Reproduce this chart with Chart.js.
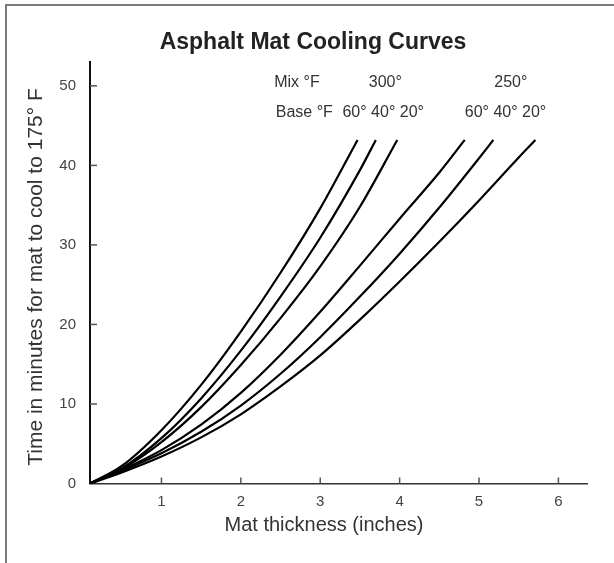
<!DOCTYPE html>
<html lang="en">
<head>
<meta charset="UTF-8">
<title>Asphalt Mat Cooling Curves</title>
<script src="https://cdn.jsdelivr.net/npm/chart.js@4"></script>
<style>
    html, body { margin: 0; padding: 0; background: #fff; overflow: hidden; }
    .frame { position: absolute; left: 5px; top: 4px; width: 640px; height: 600px; border: 2px solid #7a7a7a; }
    canvas { position: absolute; left: 0; top: 0; }
</style>
</head>
<body>
<div class="frame"></div>
<canvas id="chart" width="614" height="563"></canvas>
<script>
const thickness = [0.1, 0.5, 1, 1.5, 2, 2.5, 3, 3.5, 4, 4.5, 5, 5.5];

// minutes to cool to 175 F, one list per mix / base temperature
const time300_60 = [0, 2.2, 6.7, 12.4, 19.1, 26.5, 34.6];
const time300_40 = [0, 1.9, 5.7, 10.7, 16.7, 23.5, 30.9, 39.4];
const time300_20 = [0, 1.8, 5.2, 9.6, 14.9, 20.8, 27.3, 34.8];
const time250_60 = [0, 1.7, 4.2, 7.4, 11.4, 16.2, 21.6, 27.4, 33.3, 39.1];
const time250_40 = [0, 1.6, 3.8, 6.5, 9.8, 13.8, 18.4, 23.5, 28.9, 34.7, 40.9];
const time250_20 = [0, 1.4, 3.4, 5.8, 8.7, 12.2, 16.1, 20.6, 25.4, 30.4, 35.6, 41.0];

// where each curve stops at the top
const endThickness = [3.47, 3.70, 3.97, 4.82, 5.18, 5.71];
const endTime = [43.2, 43.2, 43.2, 43.2, 43.2, 43.2];

const mixTemps = ['300°', '300°', '300°', '250°', '250°', '250°'];
const baseTemps = ['60°', '40°', '20°', '60°', '40°', '20°'];

const xTicks = [1, 2, 3, 4, 5, 6];
const yTicks = [0, 10, 20, 30, 40, 50];

const FONT = "'Liberation Sans', Arial, sans-serif";
const allSeries = [time300_60, time300_40, time300_20, time250_60, time250_40, time250_20];

const datasets = allSeries.map((vals, i) => {
    const pts = vals.map((v, j) => ({ x: thickness[j], y: v }));
    pts.push({ x: endThickness[i], y: endTime[i] });
    return {
        label: 'Mix ' + mixTemps[i] + ' / Base ' + baseTemps[i],
        data: pts,
        borderColor: '#000',
        borderWidth: 2.2,
        pointRadius: 0,
        fill: false,
        cubicInterpolationMode: 'monotone'
    };
});

// header text over the curves, placed in data units
const notes = [
    { text: 'Mix °F', x: 2.42, y: 50.4, align: 'left' },
    { text: '300°', x: 3.82, y: 50.4, align: 'center' },
    { text: '250°', x: 5.40, y: 50.4, align: 'center' },
    { text: 'Base °F', x: 2.44, y: 46.6, align: 'left' },
    { text: '60° 40° 20°', x: 3.28, y: 46.6, align: 'left' },
    { text: '60° 40° 20°', x: 4.82, y: 46.6, align: 'left' }
];

const decor = {
    id: 'decor',
    afterDraw(chart) {
        const { ctx, chartArea: a, scales: { x, y } } = chart;
        ctx.save();

        // tick marks point inward
        ctx.strokeStyle = '#555';
        ctx.lineWidth = 1.5;
        xTicks.forEach(v => {
            const px = x.getPixelForValue(v);
            ctx.beginPath();
            ctx.moveTo(px, a.bottom);
            ctx.lineTo(px, a.bottom - 6);
            ctx.stroke();
        });
        yTicks.filter(v => v > 0).forEach(v => {
            const py = y.getPixelForValue(v);
            ctx.beginPath();
            ctx.moveTo(a.left, py);
            ctx.lineTo(a.left + 7, py);
            ctx.stroke();
        });

        ctx.fillStyle = '#333';
        ctx.textBaseline = 'middle';
        ctx.font = '16px ' + FONT;
        notes.forEach(n => {
            ctx.textAlign = n.align;
            ctx.fillText(n.text, x.getPixelForValue(n.x), y.getPixelForValue(n.y));
        });

        // title
        ctx.fillStyle = '#222';
        ctx.textAlign = 'center';
        ctx.textBaseline = 'alphabetic';
        ctx.font = 'bold 23px ' + FONT;
        ctx.fillText('Asphalt Mat Cooling Curves', 313, 49);

        // axis titles
        ctx.fillStyle = '#333';
        ctx.font = '20px ' + FONT;
        ctx.textBaseline = 'middle';
        ctx.fillText('Mat thickness (inches)', 324, 525);

        ctx.translate(36, 277);
        ctx.rotate(-Math.PI / 2);
        ctx.font = '21px ' + FONT;
        ctx.fillText('Time in minutes for mat to cool to 175° F', 0, 0);
        ctx.restore();
    }
};

new Chart(document.getElementById('chart'), {
    type: 'line',
    data: { datasets },
    options: {
        responsive: false,
        animation: false,
        layout: { padding: { left: 0, right: 27, top: 62, bottom: 0 } },
        plugins: {
            legend: { display: false },
            title: { display: false },
            tooltip: { enabled: false }
        },
        scales: {
            x: {
                type: 'linear',
                min: 0.1,
                max: 6.36,
                afterBuildTicks: s => { s.ticks = xTicks.map(v => ({ value: v })); },
                afterFit: s => { s.height = 79.5; },
                grid: { display: false, drawTicks: false },
                border: { display: true, color: '#333', width: 1.5 },
                ticks: { color: '#444', padding: 9, font: { size: 15, family: FONT }, maxRotation: 0 }
            },
            y: {
                type: 'linear',
                min: 0,
                max: 53,
                afterBuildTicks: s => { s.ticks = yTicks.map(v => ({ value: v })); },
                afterFit: s => { s.width = 90; },
                grid: { display: false, drawTicks: false },
                border: { display: true, color: '#111', width: 2 },
                ticks: { color: '#444', padding: 14, font: { size: 15, family: FONT } }
            }
        }
    },
    plugins: [decor]
});
</script>
</body>
</html>
